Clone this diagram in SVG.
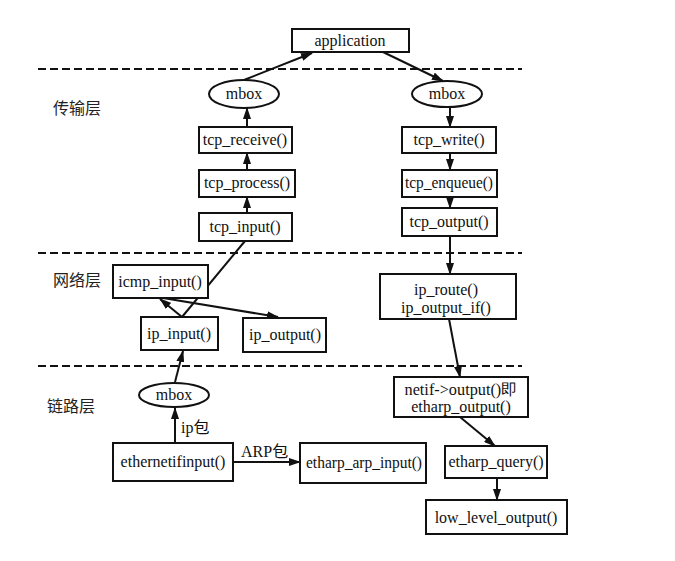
<svg xmlns="http://www.w3.org/2000/svg" width="675" height="561" viewBox="0 0 675 561">
<defs>
<marker id="ah" markerUnits="userSpaceOnUse" markerWidth="12" markerHeight="8" refX="11" refY="4" orient="auto">
<path d="M0,0 L12,4 L0,8 Z" fill="#111"/>
</marker>
<style>
.box{fill:#fff;stroke:#111;stroke-width:2}
.t{font-family:"Liberation Serif","Times New Roman",serif;font-size:16px;fill:#111;text-anchor:middle}
.cjk{font-family:"Noto Sans CJK SC","Noto Sans CJK TC",sans-serif;font-size:16px;fill:#222}
.lbl{font-family:"Liberation Serif","Noto Sans CJK SC",serif;font-size:16px;fill:#111}
.dash{stroke:#111;stroke-width:2;stroke-dasharray:8,4;fill:none}
.c{stroke:#111;stroke-width:2;fill:none}
.a{stroke:#111;stroke-width:2;fill:none;marker-end:url(#ah)}
</style>
</defs>
<rect width="675" height="561" fill="#fff"/>
<g id="layers">
<line class="dash" x1="38" y1="69" x2="522" y2="69"/>
<line class="dash" x1="38" y1="253" x2="522" y2="253"/>
<line class="dash" x1="38" y1="366" x2="522" y2="366"/>
<text class="cjk" x="53" y="114">传输层</text>
<text class="cjk" x="53" y="286">网络层</text>
<text class="cjk" x="47" y="412">链路层</text>
</g>
<g id="connectors">
<line class="a" x1="244" y1="80" x2="312" y2="53"/>
<line class="a" x1="383" y1="52" x2="443" y2="81"/>
<line class="a" x1="247" y1="127" x2="247" y2="108"/>
<line class="a" x1="247" y1="170" x2="247" y2="153"/>
<line class="a" x1="247" y1="213" x2="247" y2="197"/>
<line class="a" x1="450" y1="107" x2="450" y2="127"/>
<line class="a" x1="450" y1="153" x2="450" y2="170"/>
<line class="a" x1="450" y1="197" x2="450" y2="208"/>
<line class="a" x1="450" y1="236" x2="450" y2="274"/>
<line class="c" x1="245" y1="241" x2="182" y2="317"/>
<line class="a" x1="182" y1="317" x2="160" y2="299"/>
<line class="a" x1="163" y1="298" x2="278" y2="317"/>
<line class="a" x1="175" y1="382" x2="183" y2="351"/>
<line class="a" x1="175" y1="443" x2="175" y2="408"/>
<line class="a" x1="233" y1="462" x2="300" y2="462"/>
<line class="a" x1="449" y1="319" x2="460" y2="377"/>
<line class="a" x1="460" y1="417" x2="495" y2="446"/>
<line class="a" x1="497" y1="478" x2="497" y2="500"/>
<text class="lbl" x="181" y="433">ip包</text>
<text class="lbl" x="241" y="457">ARP包</text>
</g>
<g id="application"><rect class="box" x="292" y="29" width="117" height="23"/><text class="t" x="350" y="46">application</text></g>
<g id="mbox_tcp_in"><ellipse class="box" cx="244" cy="94" rx="35" ry="14"/><text class="t" x="244" y="99">mbox</text></g>
<g id="mbox_tcp_out"><ellipse class="box" cx="447" cy="94" rx="35" ry="13"/><text class="t" x="447" y="99">mbox</text></g>
<g id="tcp_receive"><rect class="box" x="199" y="127" width="93" height="26"/><text class="t" x="245" y="145">tcp_receive()</text></g>
<g id="tcp_process"><rect class="box" x="199" y="170" width="96" height="27"/><text class="t" x="247" y="188">tcp_process()</text></g>
<g id="tcp_input"><rect class="box" x="199" y="213" width="93" height="28"/><text class="t" x="245" y="232">tcp_input()</text></g>
<g id="tcp_write"><rect class="box" x="402" y="127" width="94" height="26"/><text class="t" x="449" y="145">tcp_write()</text></g>
<g id="tcp_enqueue"><rect class="box" x="402" y="170" width="95" height="27"/><text class="t" x="449" y="188" textLength="88" lengthAdjust="spacingAndGlyphs">tcp_enqueue()</text></g>
<g id="tcp_output"><rect class="box" x="402" y="208" width="95" height="28"/><text class="t" x="449" y="227">tcp_output()</text></g>
<g id="icmp_input"><rect class="box" x="113" y="265" width="95" height="33"/><text class="t" x="160" y="287">icmp_input()</text></g>
<g id="ip_input"><rect class="box" x="141" y="317" width="77" height="33"/><text class="t" x="179" y="339">ip_input()</text></g>
<g id="ip_output"><rect class="box" x="243" y="318" width="83" height="34"/><text class="t" x="285" y="340">ip_output()</text></g>
<g id="ip_route"><rect class="box" x="380" y="274" width="136" height="45"/><text class="t" x="446" y="295">ip_route()</text><text class="t" x="446" y="313">ip_output_if()</text></g>
<g id="mbox_link"><ellipse class="box" cx="174" cy="395" rx="35" ry="12"/><text class="t" x="174" y="400">mbox</text></g>
<g id="netif_output"><rect class="box" x="394" y="377" width="134" height="40"/><text class="t" x="461" y="395" textLength="113" lengthAdjust="spacingAndGlyphs">netif-&gt;output()即</text><text class="t" x="461" y="412">etharp_output()</text></g>
<g id="ethernetifinput"><rect class="box" x="113" y="443" width="120" height="38"/><text class="t" x="173" y="467">ethernetifinput()</text></g>
<g id="etharp_arp_input"><rect class="box" x="300" y="443" width="126" height="40"/><text class="t" x="364" y="468" textLength="116" lengthAdjust="spacingAndGlyphs">etharp_arp_input()</text></g>
<g id="etharp_query"><rect class="box" x="445" y="446" width="102" height="32"/><text class="t" x="496" y="467">etharp_query()</text></g>
<g id="low_level_output"><rect class="box" x="426" y="500" width="141" height="34"/><text class="t" x="496" y="523">low_level_output()</text></g>
</svg>
